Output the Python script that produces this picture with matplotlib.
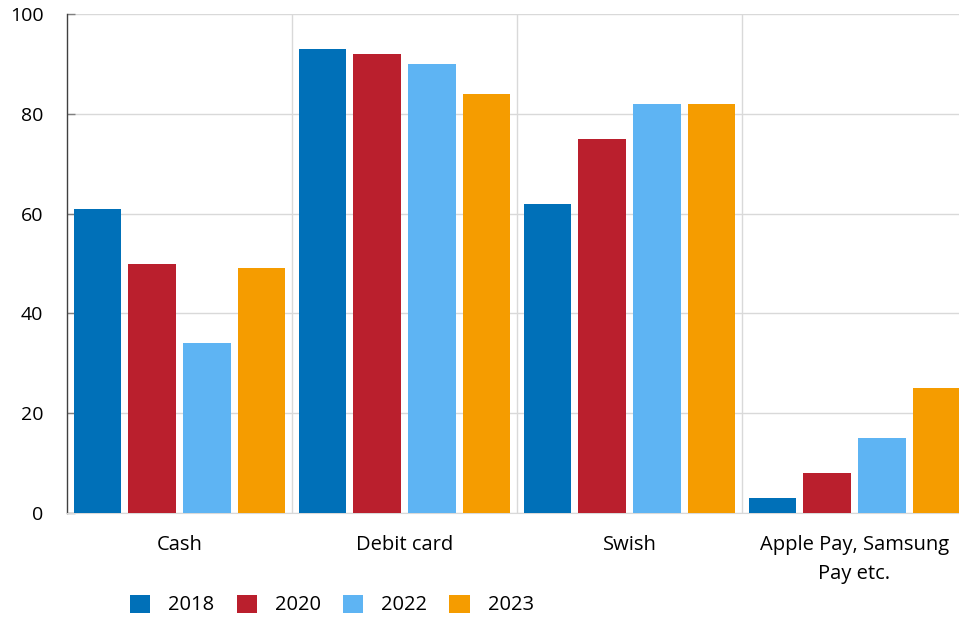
import matplotlib
matplotlib.use("Agg")
import matplotlib.pyplot as plt
import numpy as np

categories = ["Cash", "Debit card", "Swish", "Apple Pay, Samsung\nPay etc."]
years = ["2018", "2020", "2022", "2023"]
v2018 = [61, 93, 62, 3]
v2020 = [50, 92, 75, 8]
v2022 = [34, 90, 82, 15]
v2023 = [49, 84, 82, 25]
yticks = [0, 20, 40, 60, 80, 100]

colors = ["#0070B8", "#BA1F2D", "#5EB4F3", "#F59C00"]
series = [v2018, v2020, v2022, v2023]

plt.rcParams['font.family'] = ['Open Sans', 'DejaVu Sans']
W, H = 959, 618
fig = plt.figure(figsize=(W/100, H/100), dpi=100)
ax = fig.add_axes([67/W, (H-513)/H, 900/W, 499/H])

x = np.arange(len(categories))
step = 0.2444
bw = 0.209
for i, (vals, c, lab) in enumerate(zip(series, colors, years)):
    ax.bar(x + (i-1.5)*step, vals, width=bw, color=c, label=lab, zorder=3)

ax.set_xlim(-0.5, 3.5)
ax.set_ylim(0, 100)
ax.set_yticks(yticks)
ax.set_xticks(x)
ax.set_xticklabels(categories, fontsize=14.5, linespacing=1.6)
ax.set_xticks([0.5, 1.5, 2.5], minor=True)
ax.tick_params(axis='x', which='both', length=0, pad=16)
ax.tick_params(axis='y', direction='in', length=6, width=1, color='#808080', labelsize=14, pad=17)
ax.grid(axis='y', color='#D9D9D9', linewidth=1, zorder=0)
ax.grid(axis='x', which='minor', color='#D9D9D9', linewidth=1, zorder=0)
for s in ['top', 'right']:
    ax.spines[s].set_visible(False)
ax.spines['bottom'].set_color('#D9D9D9')
ax.spines['left'].set_color('#404040')
ax.spines['left'].set_linewidth(1)

fig.legend(loc='center', bbox_to_anchor=(332/W, 1-605/H), ncol=4, frameon=False,
           fontsize=14.5, handlelength=1.0, handleheight=1.0, handletextpad=0.9,
           columnspacing=1.1)

fig.savefig("out.png", dpi=100)
